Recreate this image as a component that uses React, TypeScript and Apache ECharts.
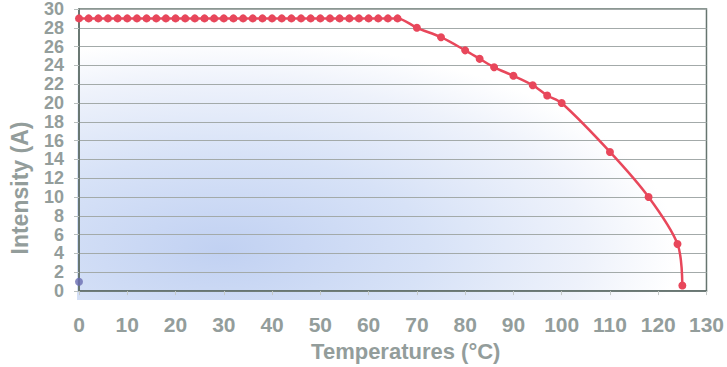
import React, { useEffect, useRef } from "react";
import * as echarts from "echarts";

// Flat (rated) portion of the derating curve: temperature (°C) and current (A)
const flatTemps = [0, 2, 4, 6, 8, 10, 12, 14, 16, 18, 20, 22, 24, 26, 28, 30, 32, 34, 36, 38, 40, 42, 44, 46, 48, 50, 52, 54, 56, 58, 60, 62, 64, 66];
const flatCurrent = [29, 29, 29, 29, 29, 29, 29, 29, 29, 29, 29, 29, 29, 29, 29, 29, 29, 29, 29, 29, 29, 29, 29, 29, 29, 29, 29, 29, 29, 29, 29, 29, 29, 29];

// Derating portion
const deratingTemps = [70, 75, 80, 83, 86, 90, 94, 97, 100, 110, 118, 124, 125];
const deratingCurrent = [28, 27, 25.6, 24.7, 23.8, 22.9, 21.9, 20.8, 20, 14.8, 10, 5, 0.6];

// Single marker point near the origin
const markerTemps = [0];
const markerCurrent = [1];

const xAxisTitle = "Temperatures (°C)";
const yAxisTitle = "Intensity (A)";

const FONT = "'Liberation Sans', Arial, Helvetica, sans-serif";
const LABEL_COLOR = "#939d9b";

export default function App() {
  const ref = useRef<HTMLDivElement>(null);

  useEffect(() => {
    if (!ref.current) return;
    const chart = echarts.init(ref.current, undefined, { renderer: "svg" });

    const curveData = [
      ...flatTemps.map((t, i) => [t, flatCurrent[i]]),
      ...deratingTemps.map((t, i) => [t, deratingCurrent[i]]),
    ];
    const markerData = markerTemps.map((t, i) => [t, markerCurrent[i]]);

    const gridLeft = 77;
    const gridTop = 7;
    const gridRight = 18;
    const gridBottom = 67;
    const plotW = 727 - gridLeft - gridRight;
    const plotH = 367 - gridTop - gridBottom;
    const sx = 1.6;

    chart.setOption({
      animation: false,
      backgroundColor: "#ffffff",
      graphic: [
        {
          type: "rect",
          z: -10,
          silent: true,
          x: gridLeft,
          y: gridTop,
          scaleX: sx,
          shape: { x: 0, y: 0, width: plotW / sx, height: plotH },
          style: {
            fill: new echarts.graphic.RadialGradient(0.23, 0.83, 0.72, [
              { offset: 0, color: "#c1d1f2" },
              { offset: 0.45, color: "#d7e2f7" },
              { offset: 0.8, color: "#eef2fb" },
              { offset: 1, color: "#ffffff" },
            ]),
          },
        },
      ],
      grid: {
        left: gridLeft,
        right: gridRight,
        top: gridTop,
        bottom: gridBottom,
        show: true,
        backgroundColor: "transparent",
        borderColor: "#66756f",
        borderWidth: 1.5,
      },
      xAxis: {
        type: "value",
        min: 0,
        max: 130,
        interval: 10,
        name: xAxisTitle,
        nameLocation: "middle",
        nameGap: 46,
        nameTextStyle: {
          fontFamily: FONT,
          fontSize: 22,
          fontWeight: "bold",
          color: LABEL_COLOR,
          padding: [0, 0, 0, 26],
        },
        axisLine: { show: true, lineStyle: { color: "#5f6e69", width: 1.5 } },
        axisTick: { show: true, length: 4, lineStyle: { color: "#c4c9c8" } },
        axisLabel: {
          margin: 23,
          fontFamily: FONT,
          fontSize: 21,
          fontWeight: "bold",
          color: LABEL_COLOR,
        },
        splitLine: { show: false },
      },
      yAxis: {
        type: "value",
        min: 0,
        max: 30,
        interval: 2,
        name: yAxisTitle,
        nameLocation: "middle",
        nameGap: 48,
        nameTextStyle: {
          fontFamily: FONT,
          fontSize: 23,
          fontWeight: "bold",
          color: LABEL_COLOR,
          padding: [0, 76, 0, 0],
        },
        axisLine: { show: true, lineStyle: { color: "#5f6e69", width: 1.5 } },
        axisTick: { show: true, length: 5, lineStyle: { color: "#b8bebd" } },
        axisLabel: {
          margin: 15,
          fontFamily: FONT,
          fontSize: 18,
          lineHeight: 18,
          fontWeight: "bold",
          color: LABEL_COLOR,
        },
        splitLine: { show: true, lineStyle: { color: "#a3aaa9", width: 1 } },
      },
      series: [
        {
          type: "line",
          data: curveData,
          smooth: 0.3,
          clip: false,
          symbol: "circle",
          symbolSize: 8,
          lineStyle: { color: "#e8475b", width: 2.5 },
          itemStyle: { color: "#e8475b" },
          z: 5,
        },
        {
          type: "scatter",
          data: markerData,
          clip: false,
          symbol: "circle",
          symbolSize: 8,
          itemStyle: { color: "#6a6db2" },
          z: 6,
        },
      ],
    });

    return () => chart.dispose();
  }, []);

  return <div ref={ref} style={{ width: 727, height: 367, position: "absolute", left: 0, top: 0 }} />;
}
